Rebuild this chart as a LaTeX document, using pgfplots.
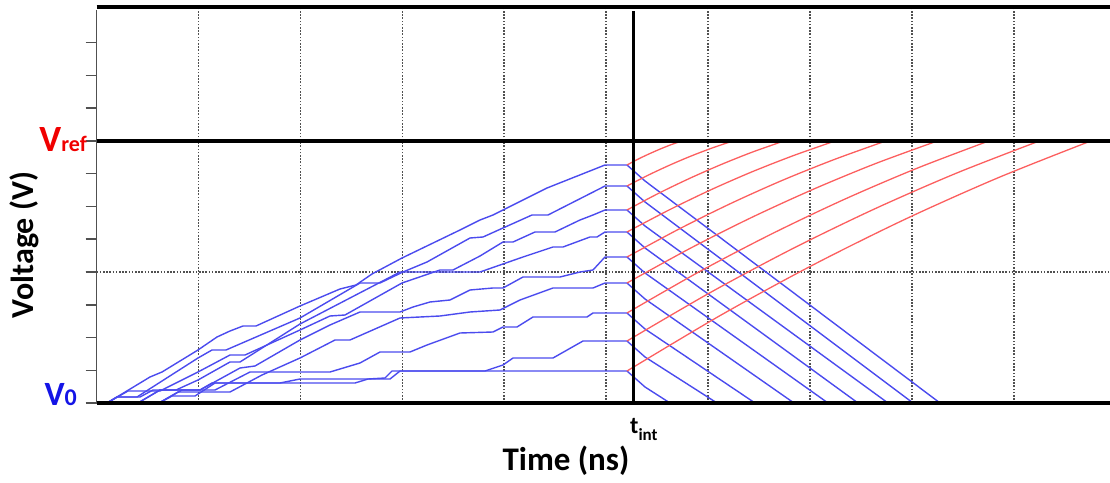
\documentclass[border=0pt]{standalone}
\usepackage{pgfplots}
\pgfplotsset{compat=1.18}
\usepackage{fontspec}
\setmainfont{Carlito}
\definecolor{cblue}{RGB}{75,75,238}
\definecolor{cred}{RGB}{252,95,95}
\definecolor{lblue}{RGB}{20,20,230}
\definecolor{lred}{RGB}{240,0,0}
\definecolor{gridc}{RGB}{80,80,80}
\begin{document}
\begin{tikzpicture}
\begin{axis}[
  at={(96.6pt,79pt)}, anchor=south west,
  scale only axis, width=1013.4pt, height=396pt,
  xmin=96.6, xmax=1110, ymin=0, ymax=396,
  axis line style={draw=none},
  clip=false,
  xtick={198.5,300.4,402.3,504.2,606,708,809.9,911.8,1013.7},
  xticklabels={}, xmajorgrids, xtick style={draw=none},
  ytick={0,32.75,65.5,98.25,131,163.75,196.5,229.25,262,294.75,327.5,360.25},
  yticklabels={}, ytick pos=left, tick align=outside, major tick length=11pt,
  ytick style={gridc, line width=1.5pt},
  extra y ticks={131}, extra y tick labels={}, extra y tick style={grid=major},
  major grid style={gridc, line width=1.6pt, dash pattern=on 1.6pt off 1.6pt},
  every axis plot/.append style={line join=round},
]
% blue: charging, hold, discharge
\addplot[cblue, line width=1.4pt] coordinates {(107,0)(150,26)(162,31)(198,53)(217,66)(230,72)(243,77)(256,77)(300,97)(340,114)(356,118)(372,129)(402,145)(460,173)(480,183)(493,188)(505,194)(547,215)(605,238)(627,238)(645,222)(940,0)};
\addplot[cblue, line width=1.4pt] coordinates {(107,0)(117,6)(137,6)(198,45)(212,53)(226,53)(300,85)(360,120)(380,120)(403,131)(427,141)(470,165)(483,166)(503,175)(532,188)(548,188)(605,217)(627,217)(645,201)(913,0)};
\addplot[cblue, line width=1.4pt] coordinates {(107,0)(128,12)(160,12)(198,31)(230,48)(245,48)(300,73)(330,87)(345,88)(402,120)(440,133)(453,133)(480,147)(503,161)(513,161)(535,171)(555,171)(580,183)(593,188)(605,193)(627,193)(645,177)(888,0)};
\addplot[cblue, line width=1.4pt] coordinates {(138,0)(160,13)(176,13)(198,23)(230,41)(240,41)(300,79)(400,131)(480,131)(523,146)(553,156)(563,156)(590,166)(597,166)(605,171)(627,171)(645,155)(858,0)};
\addplot[cblue, line width=1.4pt] coordinates {(138,0)(160,13)(200,13)(240,35)(255,37)(300,63)(330,78)(360,91)(400,91)(413,96)(430,101)(450,103)(470,113)(493,115)(503,115)(523,126)(560,126)(580,131)(593,133)(605,146)(627,146)(645,130)(828,0)};
\addplot[cblue, line width=1.4pt] coordinates {(159,0)(178,11)(230,11)(262,28)(300,45)(335,63)(350,63)(400,85)(440,87)(470,91)(500,93)(520,103)(553,115)(593,115)(605,120)(627,120)(645,104)(794,0)};
\addplot[cblue, line width=1.4pt] coordinates {(159,0)(182,13)(215,13)(250,31)(330,31)(360,40)(380,51)(410,51)(427,58)(460,70)(493,71)(503,76)(517,76)(533,86)(587,86)(593,90)(627,90)(645,74)(755,0)};
\addplot[cblue, line width=1.4pt] coordinates {(159,0)(172,7)(195,7)(215,20)(280,20)(300,24)(390,24)(400,32)(485,32)(503,38)(513,45)(553,45)(583,62)(627,62)(645,46)(717,0)};
\addplot[cblue, line width=1.4pt] coordinates {(107,0)(117,6)(140,6)(153,13)(200,13)(212,20)(355,20)(368,24)(385,25)(392,32)(627,32)(645,16)(670,0)};
% red: de-integration up to Vref
\addplot[cred, line width=1.3pt, smooth] coordinates {(627,238)(637.9,243.8)(648.9,249.0)(659.8,253.8)(670.8,258.2)(681.7,262)};
\addplot[cred, line width=1.3pt, smooth] coordinates {(627,217)(648.1,227.8)(669.3,237.7)(690.4,246.7)(711.6,254.8)(732.7,262)};
\addplot[cred, line width=1.3pt, smooth] coordinates {(627,193)(658.4,209.6)(689.8,224.7)(721.2,238.5)(752.6,251.0)(784,262)};
\addplot[cred, line width=1.3pt, smooth] coordinates {(627,171)(668.6,192.8)(710.2,212.9)(751.8,231.1)(793.4,247.4)(835,262)};
\addplot[cred, line width=1.3pt, smooth] coordinates {(627,146)(678.7,173.8)(730.5,199.4)(782.2,222.6)(834.0,243.4)(885.7,262)};
\addplot[cred, line width=1.3pt, smooth] coordinates {(627,120)(689.1,154.1)(751.1,185.3)(813.2,213.7)(875.2,239.3)(937.3,262)};
\addplot[cred, line width=1.3pt, smooth] coordinates {(627,90)(699.3,131.3)(771.7,169.1)(844.0,203.5)(916.4,234.5)(988.7,262)};
\addplot[cred, line width=1.3pt, smooth] coordinates {(627,62)(709.5,110)(791.9,154)(874.4,194)(956.8,230)(1039.3,262)};
\addplot[cred, line width=1.3pt, smooth] coordinates {(627,32)(719.7,87.2)(812.5,137.8)(905.2,183.8)(998.0,225.2)(1090.7,262)};
% frame and reference lines
\addplot[gridc, line width=1.5pt] coordinates {(96.6,0)(96.6,393)};
\addplot[black, line width=3.4pt] coordinates {(96.6,396)(1110,396)};
\addplot[black, line width=3.2pt] coordinates {(96.6,262)(1110,262)};
\addplot[black, line width=3.4pt] coordinates {(96.6,0)(1110,0)};
\addplot[black, line width=3.4pt] coordinates {(633.3,0)(633.3,392)};
% labels
\node[anchor=base east, inner sep=0pt, text=lred, font=\bfseries] at (axis cs:87,251) {\fontsize{37}{40}\selectfont V\fontsize{22}{24}\selectfont ref};
\node[anchor=base east, inner sep=0pt, text=lblue, font=\bfseries] at (axis cs:77,-2) {\fontsize{34}{38}\selectfont V\fontsize{24}{26}\selectfont 0};
\node[anchor=base west, inner sep=0pt, font=\bfseries] at (axis cs:630,-30) {\fontsize{24}{26}\selectfont t\raisebox{-0.3em}{\fontsize{17}{19}\selectfont int}};
\node[anchor=base, inner sep=0pt, font=\bfseries] at (axis cs:566,-67) {\fontsize{33}{36}\selectfont Time (ns)};
\node[anchor=base, inner sep=0pt, rotate=90, font=\bfseries] at (axis cs:34,158) {\fontsize{32}{36}\selectfont Voltage (V)};
\end{axis}
\pgfresetboundingbox
\path[use as bounding box] (0,0) rectangle (1110pt,482pt);
\end{tikzpicture}
\end{document}
